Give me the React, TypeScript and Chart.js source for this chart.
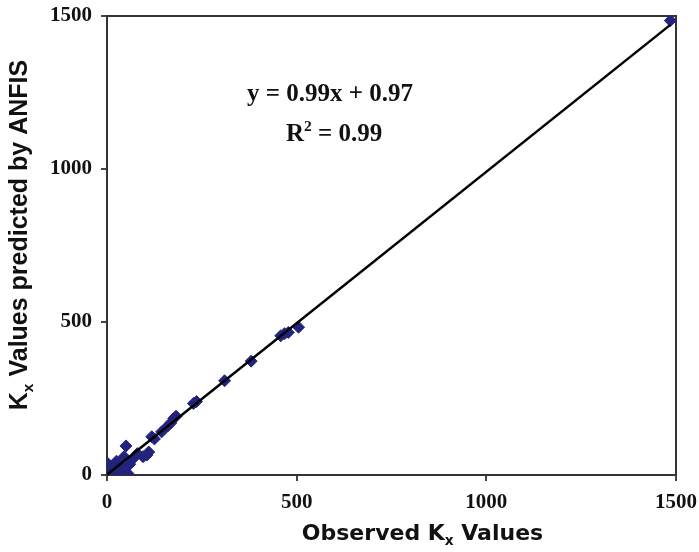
import React, { useEffect, useRef } from 'react';
import { Chart, registerables } from 'chart.js';

Chart.register(...registerables);

// Observed vs ANFIS-predicted Kx values
const observedKx = [0, 5, 10, 15, 20, 25, 30, 40, 45, 50, 55, 60, 70, 80, 95, 105, 110, 118, 125, 144, 160, 168, 176, 182, 228, 236, 310, 380, 458, 468, 478, 505, 1485];
const predictedKx = [40, 20, 5, 30, 15, 45, 10, 25, 60, 95, 5, 35, 55, 70, 60, 65, 75, 125, 118, 141, 160, 170, 185, 192, 234, 240, 308, 372, 455, 462, 466, 483, 1485];

// Trendline endpoints (y = 0.99x + 0.97)
const trendX = [0, 1485];
const trendY = [0.97, 1471];

const axisTicks = [0, 500, 1000, 1500];
const xTitle = [{ t: 'Observed K' }, { t: 'x', sub: true }, { t: ' Values' }];
const yTitle = [{ t: 'K' }, { t: 'x', sub: true }, { t: ' Values predicted by ANFIS' }];
const eqLine1 = [{ t: 'y = 0.99x + 0.97' }];
const eqLine2 = [{ t: 'R' }, { t: '2', sup: true }, { t: ' = 0.99' }];
const eqAnchor = { x: 588, y1: 1248, y2: 1118 };

type Seg = { t: string; sub?: boolean; sup?: boolean };

function richWidth(ctx: CanvasRenderingContext2D, segs: Seg[], family: string, size: number) {
  let w = 0;
  for (const s of segs) {
    const fs = s.sub || s.sup ? size * 0.62 : size;
    ctx.font = `bold ${fs}px ${family}`;
    w += ctx.measureText(s.t).width;
  }
  return w;
}

function drawRich(ctx: CanvasRenderingContext2D, segs: Seg[], family: string, size: number, x: number, y: number) {
  let cx = x;
  for (const s of segs) {
    const fs = s.sub || s.sup ? size * 0.62 : size;
    ctx.font = `bold ${fs}px ${family}`;
    const dy = s.sub ? size * 0.22 : s.sup ? -size * 0.38 : 0;
    ctx.fillText(s.t, cx, y + dy);
    cx += ctx.measureText(s.t).width;
  }
}

const decorPlugin = {
  id: 'decor',
  beforeDatasetsDraw(chart: any) {
    const { ctx, chartArea } = chart;
    ctx.save();
    ctx.strokeStyle = '#333';
    ctx.lineWidth = 2;
    ctx.strokeRect(chartArea.left, chartArea.top, chartArea.right - chartArea.left, chartArea.bottom - chartArea.top);
    ctx.restore();
  },
  afterDraw(chart: any) {
    const { ctx, chartArea, scales } = chart;
    ctx.save();
    ctx.fillStyle = '#111';
    ctx.textBaseline = 'alphabetic';
    ctx.textAlign = 'left';

    // X axis title
    const xFam = '"DejaVu Sans"';
    const xs = 22;
    const xw = richWidth(ctx, xTitle as Seg[], xFam, xs);
    const xc = (chartArea.left + chartArea.right) / 2 + 31;
    drawRich(ctx, xTitle as Seg[], xFam, xs, xc - xw / 2, 540);

    // Y axis title (rotated)
    const yFam = '"Liberation Sans"';
    const ys = 25;
    const yw = richWidth(ctx, yTitle as Seg[], yFam, ys);
    ctx.save();
    ctx.translate(27, 235);
    ctx.rotate(-Math.PI / 2);
    drawRich(ctx, yTitle as Seg[], yFam, ys, -yw / 2, 0);
    ctx.restore();

    // Equation annotation
    const eFam = '"Liberation Serif"';
    const es = 25;
    const ax = scales.x.getPixelForValue(eqAnchor.x);
    const w1 = richWidth(ctx, eqLine1 as Seg[], eFam, es);
    drawRich(ctx, eqLine1 as Seg[], eFam, es, ax - w1 / 2, scales.y.getPixelForValue(eqAnchor.y1) + 8);
    const w2 = richWidth(ctx, eqLine2 as Seg[], eFam, es);
    drawRich(ctx, eqLine2 as Seg[], eFam, es, ax - w2 / 2 + 4, scales.y.getPixelForValue(eqAnchor.y2) + 8);
    ctx.restore();
  },
};

export default function App() {
  const ref = useRef<HTMLCanvasElement | null>(null);

  useEffect(() => {
    if (!ref.current) return;
    const tickFont = { family: '"Liberation Serif"', size: 21, weight: 'bold' as const };
    const fmt = (v: any) => String(v);
    const noPad = (s: any) => { s.paddingLeft = 0; s.paddingRight = 0; s.paddingTop = 0; s.paddingBottom = 0; };
    const chart = new Chart(ref.current, {
      type: 'scatter',
      data: {
        datasets: [
          {
            type: 'line',
            label: 'Trend',
            data: trendX.map((x, i) => ({ x, y: trendY[i] })),
            borderColor: '#000',
            borderWidth: 2.5,
            pointRadius: 0,
            fill: false,
            order: 0,
          } as any,
          {
            label: 'Kx',
            data: observedKx.map((x, i) => ({ x, y: predictedKx[i] })),
            pointStyle: 'rectRot',
            pointRadius: 6,
            backgroundColor: '#23237e',
            borderColor: '#23237e',
            borderWidth: 1,
            order: 1,
          },
        ],
      },
      options: {
        animation: false,
        responsive: false,
        devicePixelRatio: 1,
        layout: { padding: { top: 16, right: 23, bottom: 0, left: 0 } },
        plugins: { legend: { display: false }, tooltip: { enabled: false } },
        scales: {
          x: {
            type: 'linear',
            min: 0,
            max: 1500,
            afterBuildTicks: (s: any) => { s.ticks = axisTicks.map((v) => ({ value: v })); },
            afterFit: (s: any) => { s.height = 77; noPad(s); },
            grid: { drawOnChartArea: false, drawTicks: true, tickLength: 6, color: '#444', lineWidth: 2 },
            border: { display: false },
            ticks: { font: tickFont, color: '#111', padding: 9, maxRotation: 0, callback: fmt },
          },
          y: {
            type: 'linear',
            min: 0,
            max: 1500,
            afterBuildTicks: (s: any) => { s.ticks = axisTicks.map((v) => ({ value: v })); },
            afterFit: (s: any) => { s.width = 107; noPad(s); },
            grid: { drawOnChartArea: false, drawTicks: true, tickLength: 6, color: '#444', lineWidth: 2 },
            border: { display: false },
            ticks: { font: tickFont, color: '#111', padding: 9, callback: fmt },
          },
        },
      },
      plugins: [decorPlugin],
    });
    return () => chart.destroy();
  }, []);

  return (
    <div style={{ position: 'absolute', left: 0, top: 0, width: 699, height: 552, background: '#fff' }}>
      <canvas ref={ref} width={699} height={552} />
    </div>
  );
}
